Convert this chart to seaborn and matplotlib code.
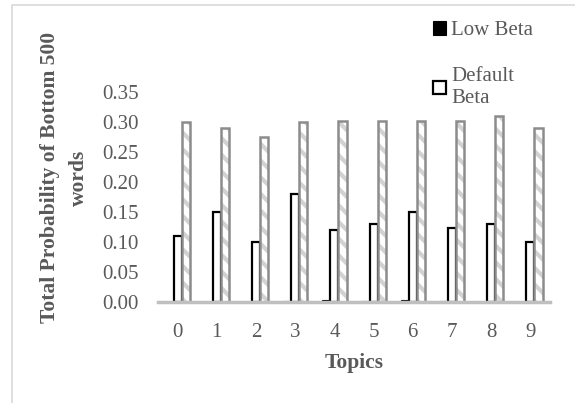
import matplotlib
matplotlib.use("Agg")
import matplotlib.pyplot as plt
from matplotlib.patches import Rectangle, Patch
import numpy as np
import pandas as pd
import seaborn as sns

topics = ["0", "1", "2", "3", "4", "5", "6", "7", "8", "9"]
low_beta = [0.0005, 0.0008, 0.0005, 0.002, 0.003, 0.002, 0.003, 0.001, 0.0005, 0.0005]
default_beta = [0.11, 0.15, 0.10, 0.18, 0.12, 0.13, 0.15, 0.123, 0.13, 0.10]
high_beta = [0.30, 0.29, 0.275, 0.30, 0.302, 0.302, 0.302, 0.302, 0.31, 0.29]
series_names = ["Low Beta", "Default\nBeta", "High Beta"]
y_ticks = [0.00, 0.05, 0.10, 0.15, 0.20, 0.25, 0.30, 0.35]

df = pd.DataFrame({
    "Topic": topics * 3,
    "Series": np.repeat(series_names, len(topics)),
    "Value": low_beta + default_beta + high_beta,
})

sns.set_theme(style="white")
plt.rcParams["font.family"] = ["Liberation Serif", "DejaVu Serif"]
plt.rcParams["hatch.linewidth"] = 3.0

TEXT = "#595959"

fig = plt.figure(figsize=(5.75, 4.03), dpi=100)
ax = fig.add_axes([158 / 575, 1 - 302 / 403, 392 / 575, 210 / 403])

sns.barplot(data=df, x="Topic", y="Value", hue="Series", hue_order=series_names,
            palette=["black", "white", "white"], width=0.62, gap=0,
            legend=False, ax=ax, saturation=1)

n = len(topics)
bars = list(ax.patches)
for i, p in enumerate(bars):
    grp = i // n
    if grp == 0:
        p.set_edgecolor("black")
        p.set_linewidth(0.8)
    elif grp == 1:
        p.set_edgecolor("black")
        p.set_linewidth(1.6)
    else:
        # light diagonal hatch inside, gray outline on top
        p.set_hatch("\\\\")
        p.set_edgecolor("#d2d2d2")
        p.set_linewidth(0)
        ax.add_patch(Rectangle(p.get_xy(), p.get_width(), p.get_height(),
                               fill=False, edgecolor="#8c8c8c", linewidth=1.8))

ax.set_xlim(-0.5, 9.5)
ax.set_ylim(0, 0.35)
ax.set_yticks(y_ticks)
ax.set_yticklabels([f"{v:.2f}" for v in y_ticks])
for s in ["top", "right", "left"]:
    ax.spines[s].set_visible(False)
ax.spines["bottom"].set_color("#bfbfbf")
ax.spines["bottom"].set_linewidth(2.5)
ax.tick_params(axis="both", length=0, labelsize=15, labelcolor=TEXT)
ax.tick_params(axis="x", pad=15)
ax.tick_params(axis="y", pad=14)

ax.set_xlabel("Topics", fontsize=15.5, fontweight="bold", color=TEXT, labelpad=8)
ax.set_ylabel("Total Probability of Bottom 500\nwords", fontsize=15.5,
              fontweight="bold", color=TEXT, linespacing=1.55)
ax.yaxis.set_label_coords(-0.177, 0.593)

handles = [Patch(facecolor="black", edgecolor="black", linewidth=0.8),
           Patch(facecolor="white", edgecolor="black", linewidth=1.6)]
fig.legend(handles, ["Low Beta", "Default\nBeta"], loc="upper left",
           bbox_to_anchor=(425 / 575, 1 - 13 / 403), frameon=False,
           fontsize=15, labelcolor=TEXT, handlelength=0.6, handleheight=0.6,
           handletextpad=0.25, labelspacing=1.3, borderaxespad=0)

# chart outline
fig.add_artist(Rectangle((12 / 575, -0.05), 1.05, 1 - 5 / 403 + 0.05,
                         transform=fig.transFigure, fill=False,
                         edgecolor="#d9d9d9", linewidth=1.2))

fig.savefig("out.png", dpi=100)
